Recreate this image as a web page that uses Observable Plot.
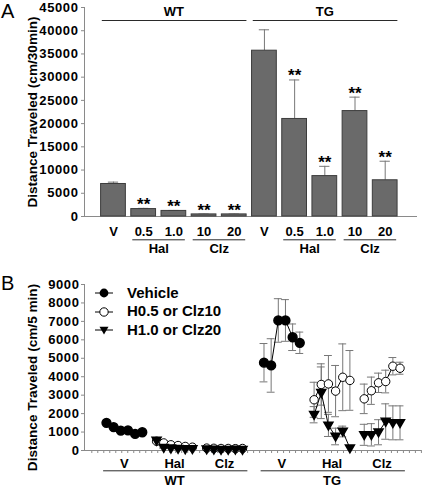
<!DOCTYPE html>
<html><head><meta charset="utf-8">
<script src="https://cdn.jsdelivr.net/npm/d3@7"></script>
<script src="https://cdn.jsdelivr.net/npm/@observablehq/plot@0.6"></script>
<style>
body{margin:0;background:#fff;font-family:'Liberation Sans',Arial,sans-serif;}
#wrap{position:relative;width:425px;height:489px;}
.letter{position:absolute;left:1px;font-size:20px;line-height:20px;font-weight:normal;}
.legend{position:absolute;left:94px;top:284px;font-weight:bold;font-size:15px;line-height:18.4px;}
.legend .row{display:flex;align-items:center;height:18.4px;white-space:nowrap;}
.legend svg{margin-right:13px;}
</style></head><body><div id="wrap"></div>
<script>
// ---------- Panel A data ----------
const barLabels   = ["V","0.5","1.0","10","20","V","0.5","1.0","10","20"];
const barDrug     = ["V","Hal","Hal","Clz","Clz","V","Hal","Hal","Clz","Clz"];
const barGenotype = ["WT","WT","WT","WT","WT","TG","TG","TG","TG","TG"];
const barMeans    = [7000, 1600, 1200, 450, 450, 35700, 21000, 8700, 22700, 7800];
const barErrTop   = [7400, 1750, 1300, 520, 520, 40200, 29400, 10800, 25700, 11900];
const barSig      = ["", "**", "**", "**", "**", "", "**", "**", "**", "**"];
const yTicksA     = d3.range(0, 45001, 5000);

// ---------- Panel B data ----------
const seriesNames = ["Vehicle", "H0.5 or Clz10", "H1.0 or Clz20"];
const genotypes = ["WT", "TG"];
const drugs = ["V", "Hal", "Clz"];
const wtVehicle    = [1500, 1270, 1080, 1090, 900, 990];
const wtVehicleSem = [80, 70, 60, 70, 60, 60];
const wtHalLow     = [500, 410, 310, 270, 220, 180];
const wtHalLowSem  = [60, 50, 40, 40, 30, 30];
const wtHalHigh    = [540, 150, 120, 100, 80, 90];
const wtHalHighSem = [60, 30, 20, 20, 20, 20];
const wtClzLow     = [130, 120, 110, 110, 100, 110];
const wtClzLowSem  = [20, 20, 20, 20, 20, 20];
const wtClzHigh    = [70, 60, 50, 50, 60, 50];
const wtClzHighSem = [10, 10, 10, 10, 10, 10];
const tgVehicle    = [4760, 4610, 7050, 7050, 6140, 5840];
const tgVehicleSem = [1040, 1450, 1180, 1130, 720, 580];
const tgHalLow     = [2750, 3580, 3610, 3220, 3970, 3800];
const tgHalLowSem  = [950, 1120, 1540, 1390, 1810, 1620];
const tgHalHigh    = [1940, 3130, 1360, 760, 1030, 130];
const tgHalHighSem = [440, 1400, 600, 450, 290, 0];
const tgClzLow     = [2800, 3240, 3670, 3740, 4570, 4460];
const tgClzLowSem  = [800, 740, 525, 615, 470, 325];
const tgClzHigh    = [850, 850, 990, 1570, 1500, 1500];
const tgClzHighSem = [570, 605, 680, 960, 920, 920];
const yTicksB = d3.range(0, 9001, 1000);

const sessions = [
  ["WT","V",seriesNames[0],wtVehicle,wtVehicleSem],
  ["WT","Hal",seriesNames[1],wtHalLow,wtHalLowSem],
  ["WT","Hal",seriesNames[2],wtHalHigh,wtHalHighSem],
  ["WT","Clz",seriesNames[1],wtClzLow,wtClzLowSem],
  ["WT","Clz",seriesNames[2],wtClzHigh,wtClzHighSem],
  ["TG","V",seriesNames[0],tgVehicle,tgVehicleSem],
  ["TG","Hal",seriesNames[1],tgHalLow,tgHalLowSem],
  ["TG","Hal",seriesNames[2],tgHalHigh,tgHalHighSem],
  ["TG","Clz",seriesNames[1],tgClzLow,tgClzLowSem],
  ["TG","Clz",seriesNames[2],tgClzHigh,tgClzHighSem]
];

// ---------- styles ----------
const FONT = "'Liberation Sans', Arial, Helvetica, sans-serif";
const AXIS_GRAY = "#8a8a8a";
const ERR_GRAY = "#777";
const LINE_DARK = "#2a2a2a";

function grayAxes(svg) {
  svg.querySelectorAll('[aria-label^="x-axis"] path, [aria-label^="x-axis"] line, [aria-label^="y-axis"] path, [aria-label^="y-axis"] line')
    .forEach(e => e.setAttribute("stroke", AXIS_GRAY));
  svg.querySelectorAll('[aria-label^="y-axis"] text').forEach(e => e.style.letterSpacing = "0.6px");
}

const wrap = document.getElementById("wrap");

// ---------- Panel A ----------
const barRows = barLabels.map((label, i) => ({
  i, label, drug: barDrug[i], genotype: barGenotype[i],
  mean: barMeans[i], err: barErrTop[i], sig: barSig[i]
}));
const drugSpansA = Array.from(d3.group(barRows.filter(d => d.drug !== "V"), d => d.genotype + d.drug),
  ([k, v]) => ({label: v[0].drug, start: d3.min(v, d => d.i), end: d3.max(v, d => d.i)}));
const genoSpansA = Array.from(d3.group(barRows, d => d.genotype),
  ([k, v]) => ({label: k, start: d3.min(v, d => d.i), end: d3.max(v, d => d.i)}));

const xDomA = [-0.96, 10.07];
const chartA = Plot.plot({
  width: 425, height: 255,
  marginLeft: 84, marginRight: 8, marginTop: 7, marginBottom: 39,
  style: {fontFamily: FONT, fontSize: "13px", fontWeight: "bold", color: "black", background: "white", overflow: "visible"},
  x: {domain: xDomA, axis: null},
  y: {domain: [0, 45000], ticks: yTicksA, tickFormat: "d", tickSize: 3, tickPadding: 3, label: null},
  marks: [
    Plot.ruleY([0], {stroke: AXIS_GRAY}),
    Plot.ruleX([xDomA[0]], {stroke: AXIS_GRAY}),
    Plot.ruleX(barRows, {x: "i", y1: "mean", y2: "err", stroke: ERR_GRAY}),
    Plot.ruleY(barRows, {y: "err", x1: d => d.i - 0.17, x2: d => d.i + 0.17, stroke: ERR_GRAY}),
    Plot.rect(barRows, {x1: d => d.i - 0.41, x2: d => d.i + 0.41, y1: d => 0, y2: "mean", fill: "#6a6a6a", stroke: "#3c3c3c", strokeWidth: 1}),
    Plot.text(barRows.filter(d => d.sig), {x: "i", y: "err", text: "sig", dy: -4, fontSize: 17}),
    Plot.text(barRows, {x: "i", y: d => 0, text: "label", dy: 15.8}),
    Plot.ruleY(drugSpansA, {y: d => 0, x1: d => d.start - 0.36, x2: d => d.end + 0.38, dy: 23.3, stroke: LINE_DARK}),
    Plot.text(drugSpansA, {x: d => (d.start + d.end) / 2, y: d => 0, text: "label", dy: 32.8}),
    Plot.ruleY(genoSpansA, {y: d => 45000, x1: d => d.start - 0.37, x2: d => d.end + 0.42, dy: 13, stroke: LINE_DARK}),
    Plot.text(genoSpansA, {x: d => (d.start + d.end) / 2, y: d => 45000, text: "label", dy: 4.7}),
    Plot.text(["Distance Traveled (cm/30min)"], {frameAnchor: "left", text: d => d, textAnchor: "middle", rotate: -90, dx: -52, fontSize: 13.6})
  ]
});
grayAxes(chartA);
wrap.appendChild(chartA);

// ---------- Panel B ----------
const rowsB = [];
for (const [g, dr, s, vals, sems] of sessions) {
  const gi = genotypes.indexOf(g), di = drugs.indexOf(dr);
  const start = (gi * 3 + di) * 7 + gi;
  vals.forEach((v, b) => rowsB.push({genotype: g, drug: dr, series: s, bin: b, x: start + b, value: v, sem: sems[b]}));
}
const drugSpansB = Array.from(d3.group(rowsB, d => d.genotype + d.drug),
  ([k, v]) => ({label: v[0].drug, start: d3.min(v, d => d.x), end: d3.max(v, d => d.x)}));
const genoSpansB = Array.from(d3.group(rowsB, d => d.genotype),
  ([k, v]) => ({label: k, start: d3.min(v, d => d.x), end: d3.max(v, d => d.x)}));

const triangleDown = {
  draw(context, size) {
    const r = Math.sqrt(size / Math.PI);
    context.moveTo(-r * 1.02, -r * 0.72);
    context.lineTo(r * 1.02, -r * 0.72);
    context.lineTo(0, r * 1.05);
    context.closePath();
  }
};
const xDomB = [-3.07, 44.0];
const minorTicks = d3.range(56).map(k => -2.05 + k * 0.837).filter(t => t <= xDomB[1]);
const errRows = rowsB.filter(d => d.sem > 0);

const chartB = Plot.plot({
  width: 425, height: 234,
  marginLeft: 84, marginRight: 4, marginTop: 29, marginBottom: 39,
  style: {fontFamily: FONT, fontSize: "13px", fontWeight: "bold", color: "black", background: "white", overflow: "visible"},
  x: {domain: xDomB, ticks: minorTicks, tickFormat: () => "", tickSize: 3, label: null},
  y: {domain: [0, 9000], ticks: yTicksB, tickFormat: "d", tickSize: 3, tickPadding: 2, label: null},
  marks: [
    Plot.ruleY([0], {stroke: AXIS_GRAY}),
    Plot.ruleX([xDomB[0]], {stroke: AXIS_GRAY}),
    Plot.ruleX(errRows, {x: "x", y1: d => d.value - d.sem, y2: d => d.value + d.sem, stroke: ERR_GRAY}),
    Plot.ruleY(errRows, {y: d => d.value + d.sem, x1: d => d.x - 0.55, x2: d => d.x + 0.55, stroke: ERR_GRAY}),
    Plot.ruleY(errRows, {y: d => d.value - d.sem, x1: d => d.x - 0.55, x2: d => d.x + 0.55, stroke: ERR_GRAY}),
    Plot.line(rowsB, {x: "x", y: "value", z: d => d.genotype + d.drug + d.series, stroke: "black", strokeWidth: 1}),
    Plot.dot(rowsB.filter(d => d.series === seriesNames[0]), {x: "x", y: "value", r: 4.4, fill: "black", stroke: "black"}),
    Plot.dot(rowsB.filter(d => d.series === seriesNames[1]), {x: "x", y: "value", r: 4.2, fill: "white", stroke: "black", strokeWidth: 1}),
    Plot.dot(rowsB.filter(d => d.series === seriesNames[2]), {x: "x", y: "value", r: 4.4, symbol: triangleDown, fill: "black", stroke: "black"}),
    Plot.text(drugSpansB, {x: d => (d.start + d.end) / 2, y: d => 0, text: "label", dy: 13.8}),
    Plot.ruleY(genoSpansB, {y: d => 0, x1: d => d.start - 0.4, x2: d => d.end + 0.75, dy: 20.3, stroke: LINE_DARK}),
    Plot.text(genoSpansB, {x: d => (d.start + d.end) / 2, y: d => 0, text: "label", dy: 30.5}),
    Plot.text(["Distance Traveled (cm/5 min)"], {frameAnchor: "left", text: d => d, textAnchor: "middle", rotate: -90, dx: -52, dy: 10, fontSize: 13.6})
  ]
});
grayAxes(chartB);
wrap.appendChild(chartB);

// ---------- panel letters ----------
const la = document.createElement("div"); la.className = "letter"; la.style.top = "1px"; la.textContent = "A"; wrap.appendChild(la);
const lb = document.createElement("div"); lb.className = "letter"; lb.style.top = "273px"; lb.textContent = "B"; wrap.appendChild(lb);

// ---------- legend (panel B) ----------
const legend = document.createElement("div");
legend.className = "legend";
const swatch = [
  `<circle cx="10" cy="6" r="4.4" fill="black"/>`,
  `<circle cx="10" cy="6" r="4.2" fill="white" stroke="black"/>`,
  `<path d="M5.5,2.8 L14.5,2.8 L10,10.6 Z" fill="black"/>`
];
legend.innerHTML = seriesNames.map((s, i) =>
  `<div class="row"><svg width="20" height="12" viewBox="0 0 20 12"><line x1="1" x2="19" y1="6" y2="6" stroke="black" stroke-width="1"/>${swatch[i]}</svg><span>${s}</span></div>`
).join("");
wrap.appendChild(legend);
</script></body></html>
